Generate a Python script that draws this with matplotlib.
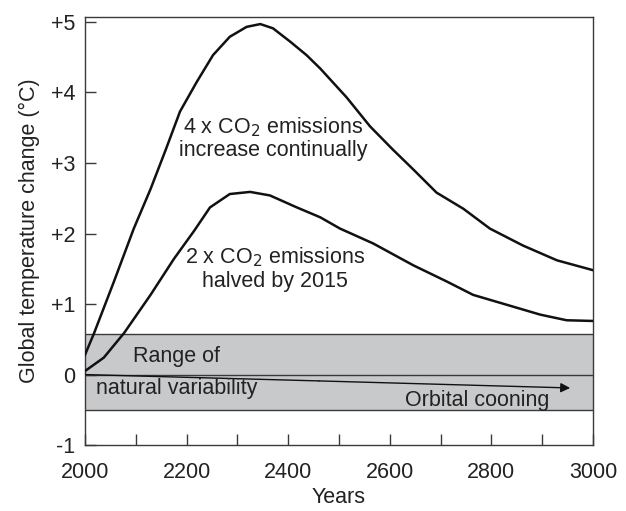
import matplotlib
matplotlib.use('Agg')
import matplotlib.pyplot as plt

plt.rcParams['font.family'] = ['Liberation Sans', 'DejaVu Sans']

# 4 x CO2, emissions increase continually
years_4x = [2000, 2018, 2057, 2096, 2129, 2159, 2187, 2220, 2252, 2285, 2318, 2345, 2370,
            2404, 2436, 2463, 2515, 2561, 2606, 2646, 2692, 2745, 2797, 2862, 2929, 3000]
temp_4x = [0.28, 0.59, 1.32, 2.07, 2.63, 3.19, 3.73, 4.15, 4.53, 4.79, 4.93, 4.97, 4.91,
           4.72, 4.53, 4.34, 3.93, 3.52, 3.19, 2.91, 2.58, 2.35, 2.07, 1.83, 1.62, 1.48]

# 2 x CO2, emissions halved by 2015
years_2x = [2000, 2037, 2077, 2129, 2175, 2215, 2246, 2285, 2325, 2364, 2417, 2463, 2502,
            2567, 2646, 2712, 2764, 2830, 2896, 2948, 3000]
temp_2x = [0.05, 0.24, 0.59, 1.13, 1.64, 2.04, 2.37, 2.56, 2.59, 2.54, 2.37, 2.23, 2.07,
           1.86, 1.55, 1.32, 1.13, 0.99, 0.85, 0.77, 0.76]

# orbital cooling trend
years_orb = [2000, 2460, 2955]
temp_orb = [0.0, -0.09, -0.19]

natural_range = (-0.5, 0.58)

x_ticks = list(range(2000, 3001, 100))
x_labels = [str(y) if y % 200 == 0 else '' for y in x_ticks]
y_ticks = [-1, 0, 1, 2, 3, 4, 5]
y_labels = ['-1', '0', '+1', '+2', '+3', '+4', '+5']

fs = 15.5
txt = '#222222'

fig = plt.figure(figsize=(6.26, 5.11), dpi=100)
ax = fig.add_axes([0.1358, 0.129, 0.8115, 0.8377])

edge = '#3a3a3a'
ax.axhspan(natural_range[0], natural_range[1], facecolor='#c8c9cb', edgecolor='none', zorder=1)
ax.axhline(natural_range[0], color=edge, lw=1.0, zorder=2)
ax.axhline(natural_range[1], color=edge, lw=1.0, zorder=2)
ax.axhline(0, color=edge, lw=1.0, zorder=2)

ax.plot(years_4x, temp_4x, color='#111111', lw=1.8, zorder=4, solid_joinstyle='round')
ax.plot(years_2x, temp_2x, color='#111111', lw=1.8, zorder=4, solid_joinstyle='round')

ax.plot(years_orb[:-1], temp_orb[:-1], color='#111111', lw=1.0, zorder=3)
ax.annotate('', xy=(years_orb[-1], temp_orb[-1]), xytext=(years_orb[-2], temp_orb[-2]),
            arrowprops=dict(arrowstyle='-|>', color='#111111', lw=1.0,
                            mutation_scale=14, shrinkA=0, shrinkB=0), zorder=3)

ax.text(2370, 3.35, '4 x CO$_2$ emissions\nincrease continually', ha='center', va='center',
        fontsize=fs, linespacing=1.1, color=txt)
ax.text(2374, 1.5, '2 x CO$_2$ emissions\nhalved by 2015', ha='center', va='center',
        fontsize=fs, linespacing=1.1, color=txt)
ax.text(2181, 0.26, 'Range of', ha='center', va='center', fontsize=fs, color=txt)
ax.text(2181, -0.2, 'natural variability', ha='center', va='center', fontsize=fs, color=txt)
ax.text(2772, -0.37, 'Orbital cooning', ha='center', va='center', fontsize=fs, color=txt)

ax.set_xlim(2000, 3000)
ax.set_ylim(-0.96, 5.07)
ax.set_xticks(x_ticks)
ax.set_xticklabels(x_labels)
ax.set_yticks(y_ticks)
ax.set_yticklabels(y_labels)
ax.tick_params(direction='in', length=8, width=1, color=edge, labelsize=fs,
               labelcolor=txt, pad=7)
ax.tick_params(axis='x', pad=12)
for s in ax.spines.values():
    s.set_color(edge)
    s.set_linewidth(1.0)

ax.set_xlabel('Years', fontsize=fs, color=txt, labelpad=3)
ax.set_ylabel('Global temperature change (°C)', fontsize=fs, color=txt, labelpad=8)

fig.savefig('out.png', dpi=100)
